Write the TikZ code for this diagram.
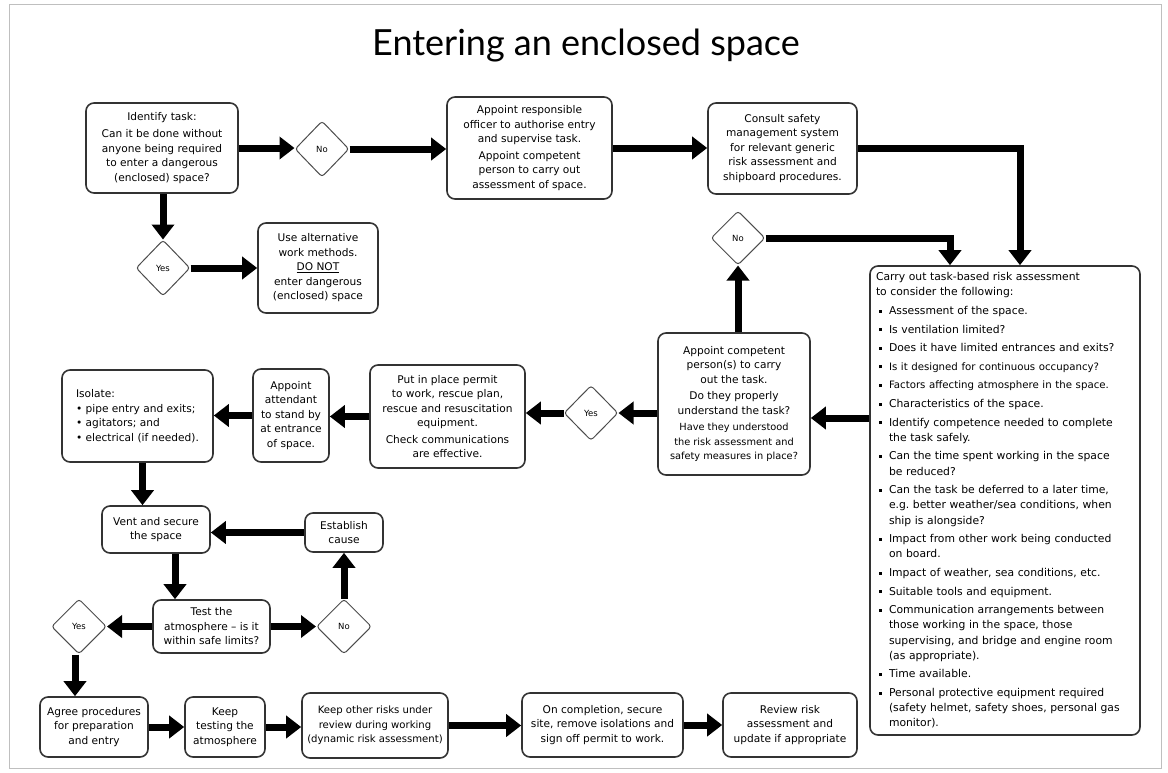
\documentclass[tikz,border=0pt]{standalone}
\usepackage{fontspec}
\setmainfont{DejaVu Sans}
\newfontfamily\titlefont{Lato}
\usetikzlibrary{shapes.geometric,arrows.meta,calc}
\newcommand{\bit}[1]{\par\vspace{3.4pt}\noindent\hangindent=13pt\hangafter=1\makebox[13pt][l]{\hspace{3pt}\rule[2pt]{3pt}{3pt}}#1}
\begin{document}
\begin{tikzpicture}[x=1pt,y=-1pt,
  box/.style={draw=black!80, line width=1.6pt, rounded corners=8pt, fill=white, align=center, inner sep=2pt, font=\fontsize{10.6}{14.5}\selectfont},
  dec/.style={diamond, aspect=1, draw=black!70, line width=1pt, rounded corners=3pt, inner sep=0pt, font=\fontsize{8.5}{10}\selectfont},
  arr/.style={line width=7pt, -{Triangle[width=22pt,length=15pt]}}]
\useasboundingbox (0,0) rectangle (1168,772);
\draw[black!25, line width=0.8pt] (9,4) rectangle (1161,768);
\node[font=\titlefont\fontsize{36}{40}\selectfont] (title) at (586,46) {Entering an enclosed space};

% top row
\node[box, minimum width=152pt, minimum height=90pt] (b1) at (162,148) {Identify task:\\[3pt]Can it be done without\\anyone being required\\to enter a dangerous\\(enclosed) space?};
\node[dec, minimum width=54pt, minimum height=56pt] (d1) at (322,149) {No};
\node[box, minimum width=165pt, minimum height=102pt] (b2) at (529.5,148) {Appoint responsible\\officer to authorise entry\\and supervise task.\\[2pt]Appoint competent\\person to carry out\\assessment of space.};
\node[box, minimum width=149pt, minimum height=91pt] (b3) at (782.5,148.5) {Consult safety\\management system\\for relevant generic\\risk assessment and\\shipboard procedures.};
\node[dec, minimum width=54pt, minimum height=56pt] (d2) at (163,268) {Yes};
\node[box, minimum width=120pt, minimum height=90pt] (b4) at (318,268) {Use alternative\\work methods.\\\underline{DO NOT}\\enter dangerous\\(enclosed) space};
\node[dec, minimum width=54pt, minimum height=54pt] (d3) at (738,238) {No};

% big box
\node[box, align=left, text width=258pt, minimum width=270pt, minimum height=469pt, inner sep=6pt, font=\fontsize{10.8}{15.2}\selectfont] (b5) at (1005,500.5) {%
\noindent Carry out task-based risk assessment\newline to consider the following:%
\bit{Assessment of the space.}%
\bit{Is ventilation limited?}%
\bit{Does it have limited entrances and exits?}%
\bit{{\fontsize{10.2}{15.2}\selectfont Is it designed for continuous occupancy?}}%
\bit{{\fontsize{10.2}{15.2}\selectfont Factors affecting atmosphere in the space.}}%
\bit{Characteristics of the space.}%
\bit{Identify competence needed to complete\newline the task safely.}%
\bit{Can the time spent working in the space\newline be reduced?}%
\bit{Can the task be deferred to a later time,\newline e.g.\ better weather/sea conditions, when\newline ship is alongside?}%
\bit{Impact from other work being conducted\newline on board.}%
\bit{Impact of weather, sea conditions, etc.}%
\bit{Suitable tools and equipment.}%
\bit{Communication arrangements between\newline those working in the space, those\newline supervising, and bridge and engine room\newline (as appropriate).}%
\bit{Time available.}%
\bit{Personal protective equipment required\newline (safety helmet, safety shoes, personal gas\newline monitor).}\par};

% middle row
\node[box, minimum width=152pt, minimum height=142pt] (b6) at (734,404) {Appoint competent\\person(s) to carry\\out the task.\\[2pt]Do they properly\\understand the task?\\[2pt]{\fontsize{9.8}{14}\selectfont Have they understood}\\{\fontsize{9.8}{14}\selectfont the risk assessment and}\\{\fontsize{9.8}{14}\selectfont safety measures in place?}};
\node[dec, minimum width=54pt, minimum height=55pt] (d4) at (591,413) {Yes};
\node[box, minimum width=155pt, minimum height=103pt] (b7) at (447.5,416.5) {Put in place permit\\to work, rescue plan,\\rescue and resuscitation\\equipment.\\[2pt]Check communications\\are effective.};
\node[box, minimum width=76pt, minimum height=93pt] (b8) at (291,415.5) {Appoint\\attendant\\to stand by\\at entrance\\of space.};
\node[box, align=left, minimum width=151pt, minimum height=92pt] (b9) at (137.5,416) {Isolate:\\\textbullet\ pipe entry and exits;\\\textbullet\ agitators; and\\\textbullet\ electrical (if needed).};

% loop
\node[box, minimum width=108pt, minimum height=47pt] (b10) at (156,529.5) {Vent and secure\\the space};
\node[box, minimum width=78pt, minimum height=39pt] (b11) at (344,532.5) {Establish\\cause};
\node[box, minimum width=117pt, minimum height=53pt] (b12) at (211.5,626.5) {Test the\\atmosphere -- is it\\within safe limits?};
\node[dec, minimum width=55pt, minimum height=55pt] (d5) at (344,626.5) {No};
\node[dec, minimum width=55pt, minimum height=55pt] (d6) at (79,626.5) {Yes};

% bottom row
\node[box, minimum width=108pt, minimum height=60pt] (b13) at (94,727) {Agree procedures\\for preparation\\and entry};
\node[box, minimum width=80pt, minimum height=60pt] (b14) at (225,727) {Keep\\testing the\\atmosphere};
\node[box, minimum width=146pt, minimum height=65pt, font=\fontsize{10.1}{14.5}\selectfont] (b15) at (375,725.5) {Keep other risks under\\review during working\\(dynamic risk assessment)};
\node[box, minimum width=161pt, minimum height=64pt] (b16) at (602.5,725) {On completion, secure\\site, remove isolations and\\sign off permit to work.};
\node[box, minimum width=134pt, minimum height=64pt] (b17) at (790,725) {Review risk\\assessment and\\update if appropriate};

% connectors
\draw[arr] (b1.east) -- (b1.east -| d1.west);
\draw[arr] (d1.east) -- (d1.east -| b2.west);
\draw[arr] (b2.east) -- (b2.east -| b3.west);
\draw[arr] (b3.east) -| ([xshift=15pt]b5.north);
\draw[arr] (b1.south -| d2.north) -- (d2.north);
\draw[arr] (d2.east) -- (d2.east -| b4.west);
\draw[arr] (d3.east) -| ([xshift=-55pt]b5.north);
\draw[arr] (b6.north -| d3.south) -- (d3.south);
\coordinate (r1) at ([yshift=82.5pt]b5.west);
\draw[arr] (r1) -- (r1 -| b6.east);
\draw[arr] (d4.east -| b6.west) -- (d4.east);
\draw[arr] (d4.west) -- (d4.west -| b7.east);
\draw[arr] (b7.west) -- (b7.west -| b8.east);
\draw[arr] (b8.west) -- (b8.west -| b9.east);
\draw[arr] ([xshift=5pt]b9.south) -- ([xshift=5pt]b9.south |- b10.north);
\draw[arr] (b11.west) -- (b11.west -| b10.east);
\draw[arr] ([xshift=19pt]b10.south) -- ([xshift=19pt]b10.south |- b12.north);
\draw[arr] (b12.east) -- (d5.west);
\draw[arr] (d5.north) -- (b11.south);
\draw[arr] (b12.west) -- (d6.east);
\draw[arr] ([xshift=-4pt]d6.south) -- ([xshift=-4pt]d6.south |- b13.north);
\draw[arr] (b13.east) -- (b13.east -| b14.west);
\draw[arr] (b14.east) -- (b14.east -| b15.west);
\draw[arr] (b15.east) -- (b15.east -| b16.west);
\draw[arr] (b16.east) -- (b16.east -| b17.west);
\end{tikzpicture}
\end{document}
